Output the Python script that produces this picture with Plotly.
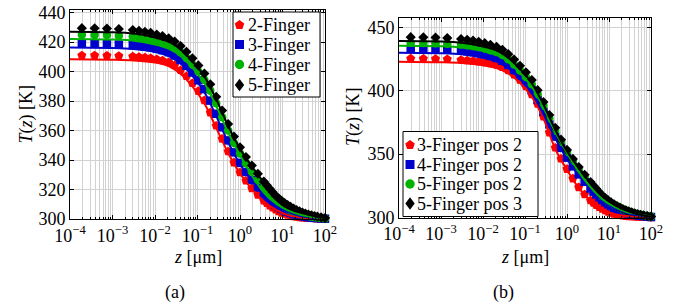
import plotly.graph_objects as go

# ---------------- data ----------------
Z_MARK = [0.00019, 0.00038, 0.00074, 0.00141, 0.0030, 0.0042, 0.0058, 0.0079, 0.011, 0.015,
          0.021, 0.029, 0.040, 0.055, 0.076, 0.105, 0.145, 0.20, 0.275, 0.38,
          0.525, 0.72, 1.0, 1.38, 1.9, 2.63,
          3.63, 4.27, 5.0, 5.89, 6.9, 8.13, 9.55, 11.2, 13.2, 15.5,
          18.2, 21.4, 25.1, 29.5, 34.7, 40.7, 47.9, 56.2, 66.1, 81.3, 100.0]
Z_LINE = [0.0001, 0.001, 0.00316, 0.01, 0.0209, 0.0398, 0.0759, 0.1445, 0.2754, 0.525,
          1.0, 1.905, 3.63, 6.92, 13.2, 25.1, 47.9, 100.0]

# panel (a) - simulation markers
A_F2 = [411.0, 410.9, 410.8, 410.6, 410.2, 409.9, 409.6, 409.1, 408.4, 407.6,
        406.3, 404.3, 401.0, 396.9, 392.1, 386.8, 380.5, 372.2, 363.3, 354.4,
        345.8, 338.3, 331.6, 326.0, 320.8, 316.4,
        312.4, 310.7, 309.1, 307.7, 306.4, 305.2, 304.2, 303.4, 302.7, 302.2,
        301.7, 301.4, 301.1, 300.9, 300.8, 300.7, 300.6, 300.4, 300.3, 300.2, 300.1]
A_F3 = [419.0, 418.9, 418.8, 418.4, 417.9, 417.6, 417.1, 416.5, 415.7, 414.6,
        413.2, 411.0, 407.9, 404.0, 399.4, 394.1, 388.1, 380.3, 371.4, 362.2,
        353.3, 345.2, 338.1, 331.9, 326.4, 321.4,
        316.9, 314.9, 313.0, 311.2, 309.6, 308.2, 306.9, 305.8, 304.9, 304.1,
        303.3, 302.8, 302.3, 301.9, 301.5, 301.2, 301.0, 300.8, 300.6, 300.4, 300.2]
A_F4 = [425.0, 424.9, 424.8, 424.4, 423.8, 423.3, 422.6, 421.9, 420.9, 419.8,
        418.3, 416.1, 413.1, 409.3, 404.9, 400.0, 394.4, 387.1, 378.5, 369.1,
        360.0, 351.6, 344.4, 337.9, 332.0, 326.5,
        321.5, 319.2, 317.0, 314.9, 313.0, 311.3, 309.8, 308.4, 307.1, 306.0,
        305.1, 304.3, 303.6, 303.0, 302.5, 302.0, 301.6, 301.3, 301.0, 300.7, 300.4]
A_F5 = [429.5, 429.4, 429.2, 428.9, 428.2, 427.7, 427.0, 426.3, 425.2, 424.1,
        422.6, 420.4, 417.3, 413.4, 409.0, 404.2, 398.7, 391.4, 382.9, 373.6,
        364.4, 355.9, 348.6, 342.1, 336.3, 330.7,
        325.4, 322.9, 320.5, 318.1, 315.8, 314.0, 312.3, 310.8, 309.5, 308.3,
        307.1, 306.1, 305.2, 304.4, 303.6, 303.0, 302.5, 302.0, 301.6, 301.1, 300.6]
# panel (a) - model lines
A_F2_LINE = [408.4, 408.1, 407.6, 406.1, 403.8, 398.6, 390.0, 378.6, 361.8, 344.8,
             330.9, 320.3, 312.1, 306.3, 302.6, 301.1, 300.5, 300.1]
A_F3_LINE = [416.3, 416.0, 415.3, 413.3, 410.6, 405.5, 397.1, 386.1, 369.8, 352.1,
             337.2, 325.8, 316.5, 309.4, 304.8, 302.2, 300.9, 300.2]
A_F4_LINE = [422.2, 421.8, 421.0, 418.4, 415.6, 410.6, 402.5, 392.3, 376.7, 358.7,
             343.4, 329.5, 318.0, 310.5, 305.8, 303.0, 301.4, 300.4]
A_F5_LINE = [427.1, 426.7, 425.8, 423.2, 420.4, 415.2, 407.0, 396.9, 381.3, 363.2,
             347.7, 335.6, 324.9, 315.5, 309.3, 305.1, 302.4, 300.6]

# panel (b) - simulation markers
B_F3P2 = [425.3, 425.2, 425.1, 424.8, 424.3, 423.9, 423.5, 423.0, 422.4, 421.5,
          420.3, 418.5, 416.0, 412.6, 408.5, 403.4, 397.1, 389.6, 379.6, 367.0,
          355.1, 346.4, 338.2, 330.7, 323.8, 318.2,
          313.5, 311.6, 309.8, 308.2, 306.8, 305.6, 304.5, 303.6, 302.8, 302.3,
          301.8, 301.4, 301.1, 300.9, 300.8, 300.6, 300.5, 300.4, 300.3, 300.2, 300.1]
B_F4P2 = [433.0, 432.9, 432.7, 432.3, 431.7, 431.1, 430.5, 429.7, 428.6, 427.4,
          425.8, 423.6, 420.4, 416.2, 411.6, 406.4, 400.4, 392.7, 383.5, 373.5,
          363.8, 354.9, 347.2, 340.3, 334.0, 328.2,
          322.9, 320.4, 318.1, 315.9, 313.8, 312.0, 310.4, 308.9, 307.6, 306.5,
          305.5, 304.7, 303.9, 303.3, 302.7, 302.2, 301.7, 301.4, 301.1, 300.7, 300.4]
B_F5P2 = [437.8, 437.7, 437.5, 437.1, 436.4, 435.9, 435.2, 434.4, 433.3, 432.0,
          430.5, 428.2, 424.8, 420.7, 416.0, 410.9, 405.0, 397.3, 388.2, 378.3,
          368.5, 359.5, 351.7, 344.8, 338.6, 332.7,
          327.0, 324.3, 321.8, 319.2, 316.8, 314.9, 313.1, 311.5, 310.1, 308.8,
          307.6, 306.5, 305.5, 304.7, 303.9, 303.2, 302.6, 302.1, 301.7, 301.2, 300.7]
B_F5P3 = [442.2, 442.1, 441.9, 441.5, 440.8, 440.2, 439.5, 438.6, 437.5, 436.2,
          434.7, 432.2, 428.8, 424.6, 419.7, 414.5, 408.4, 400.4, 391.0, 380.8,
          370.7, 361.4, 353.3, 346.2, 339.8, 333.7,
          327.9, 325.1, 322.5, 319.8, 317.3, 315.3, 313.5, 311.9, 310.4, 309.0,
          307.8, 306.7, 305.7, 304.8, 304.0, 303.3, 302.7, 302.2, 301.7, 301.2, 300.7]
# panel (b) - model lines
B_F3P2_LINE = [422.8, 422.4, 421.8, 420.1, 417.9, 413.7, 406.3, 395.2, 378.0, 354.0,
               337.5, 323.3, 313.3, 306.6, 302.7, 301.1, 300.5, 300.1]
B_F4P2_LINE = [430.0, 429.6, 428.7, 426.0, 423.0, 417.7, 409.1, 398.2, 381.6, 362.4,
               346.2, 333.3, 322.4, 313.5, 307.4, 303.8, 301.7, 300.4]
B_F5P2_LINE = [435.4, 435.0, 434.0, 431.2, 428.2, 422.7, 414.0, 403.2, 386.7, 367.3,
               350.8, 336.0, 324.0, 314.5, 308.5, 304.5, 302.6, 300.7]
B_F5P3_LINE = [439.2, 438.8, 437.8, 434.9, 431.8, 426.1, 417.2, 406.1, 389.1, 369.2,
               352.2, 339.0, 327.3, 317.0, 310.2, 305.6, 302.6, 300.7]

LABELS_A = ["2-Finger", "3-Finger", "4-Finger", "5-Finger"]
LABELS_B = ["3-Finger pos 2", "4-Finger pos 2", "5-Finger pos 2", "5-Finger pos 3"]
X_TICKS = [1e-4, 1e-3, 1e-2, 1e-1, 1e0, 1e1, 1e2]
X_TICKTEXT = ["10<sup>−4</sup>", "10<sup>−3</sup>", "10<sup>−2</sup>", "10<sup>−1</sup>",
              "10<sup>0</sup>", "10<sup>1</sup>", "10<sup>2</sup>"]
Y_TICKS_A = [300, 320, 340, 360, 380, 400, 420, 440]
Y_TICKS_B = [300, 350, 400, 450]

# ---------------- style ----------------
W, H = 686, 307
FONT = "Liberation Serif"
COLORS = ["#ff0000", "#0000cc", "#00b300", "#000000"]
SYMBOLS = ["pentagon", "square", "circle", "diamond"]
SIZES = [9.5, 8.5, 8.5, 7.8]


def px(x):
    return x / W


def py(y):
    return 1 - y / H


fig = go.Figure()

panels = [
    ("x", "y", [A_F2, A_F3, A_F4, A_F5], [A_F2_LINE, A_F3_LINE, A_F4_LINE, A_F5_LINE]),
    ("x2", "y2", [B_F3P2, B_F4P2, B_F5P2, B_F5P3], [B_F3P2_LINE, B_F4P2_LINE, B_F5P2_LINE, B_F5P3_LINE]),
]
for xa, ya, marks, lines in panels:
    for i, t in enumerate(marks):
        fig.add_trace(go.Scatter(
            x=Z_MARK, y=t, mode="markers", xaxis=xa, yaxis=ya, showlegend=False,
            cliponaxis=False,
            marker=dict(symbol=SYMBOLS[i], size=SIZES[i], color=COLORS[i], line=dict(width=0))))
    for i, t in enumerate(lines):
        fig.add_trace(go.Scatter(
            x=Z_LINE, y=t, mode="lines", xaxis=xa, yaxis=ya, showlegend=False,
            line=dict(color=COLORS[i], width=2, shape="spline", smoothing=0.9)))

MINOR = [k * 10.0 ** n for n in range(-4, 2) for k in range(2, 10)]
GRID = "#d2d2d2"
TICKFONT = dict(family=FONT, size=18, color="black")
common_x = dict(type="log", range=[-4, 2], tickmode="array", tickvals=X_TICKS, ticktext=X_TICKTEXT,
                showline=True, linecolor="black", linewidth=1, mirror="allticks", automargin=False,
                ticks="inside", ticklen=4, tickcolor="black", showgrid=True, gridcolor=GRID, gridwidth=1,
                zeroline=False, tickfont=TICKFONT,
                minor=dict(tickmode="array", tickvals=MINOR, ticks="inside", ticklen=2, tickcolor="black",
                           showgrid=True, gridcolor=GRID, gridwidth=1))
common_y = dict(showline=True, linecolor="black", linewidth=1, mirror="allticks", automargin=False,
                ticks="inside", ticklen=4, tickcolor="black", showgrid=True, gridcolor=GRID, gridwidth=1,
                zeroline=False, tickfont=TICKFONT, tickmode="array")

fig.update_layout(
    width=W, height=H, margin=dict(l=0, r=0, t=0, b=0, autoexpand=False),
    paper_bgcolor="white", plot_bgcolor="white", showlegend=False,
    font=dict(family=FONT, size=18, color="black"),
    xaxis=dict(domain=[px(70), px(325)], anchor="y", **common_x),
    yaxis=dict(domain=[py(219), py(10)], anchor="x", range=[300, 441.8], tickvals=Y_TICKS_A, **common_y),
    xaxis2=dict(domain=[px(399), px(651)], anchor="y2", **common_x),
    yaxis2=dict(domain=[py(217.5), py(18.3)], anchor="x2", range=[300, 457.1], tickvals=Y_TICKS_B, **common_y),
)

# ---------------- legends (drawn manually) ----------------
shapes = []
annotations = []


def glyph(i, cx, cy):
    base = dict(xref="paper", yref="paper", xsizemode="pixel", ysizemode="pixel",
                xanchor=px(cx), yanchor=py(cy), layer="above",
                fillcolor=COLORS[i], line=dict(width=0))
    if i == 0:
        base.update(type="path",
                    path="M0,5 L4.75,1.55 L2.94,-4.05 L-2.94,-4.05 L-4.75,1.55 Z")
    elif i == 1:
        base.update(type="rect", x0=-4.5, x1=4.5, y0=-4.5, y1=4.5)
    elif i == 2:
        base.update(type="circle", x0=-4.7, x1=4.7, y0=-4.7, y1=4.7)
    else:
        base.update(type="path", path="M0,6.3 L4.7,0 L0,-6.3 L-4.7,0 Z")
    return base


def legend(box, mark_x, text_x, rows, labels):
    x0, y0, x1, y1 = box
    shapes.append(dict(type="rect", xref="paper", yref="paper", x0=px(x0), x1=px(x1),
                       y0=py(y1), y1=py(y0), fillcolor="white",
                       line=dict(color="black", width=1), layer="above"))
    for i, (ry, lab) in enumerate(zip(rows, labels)):
        shapes.append(glyph(i, mark_x, ry))
        annotations.append(dict(xref="paper", yref="paper", x=px(text_x), y=py(ry),
                                xanchor="left", yanchor="middle", showarrow=False, text=lab,
                                font=dict(family=FONT, size=18, color="black")))


legend((233, 12, 320, 97), 239.5, 246, [25, 44.5, 64.5, 85], LABELS_A)
legend((403, 131.5, 538, 216.5), 410, 415, [145, 164.5, 184, 203.5], LABELS_B)

# axis titles and captions
for cx, cy, txt, ang in [
    (26, 114.5, "<i>T</i>(<i>z</i>) [K]", -90),
    (354, 117, "<i>T</i>(<i>z</i>) [K]", -90),
    (197.5, 257, "<i>z</i> [μm]", 0),
    (525, 257, "<i>z</i> [μm]", 0),
    (175, 292, "(a)", 0),
    (503, 292, "(b)", 0),
]:
    annotations.append(dict(xref="paper", yref="paper", x=px(cx), y=py(cy), xanchor="center",
                            yanchor="middle", showarrow=False, text=txt, textangle=ang,
                            font=dict(family=FONT, size=18, color="black")))

fig.update_layout(shapes=shapes, annotations=annotations)
fig.write_html("out.html", config={"displayModeBar": False},
               post_script="document.body.style.margin='0';document.body.style.padding='0';")
